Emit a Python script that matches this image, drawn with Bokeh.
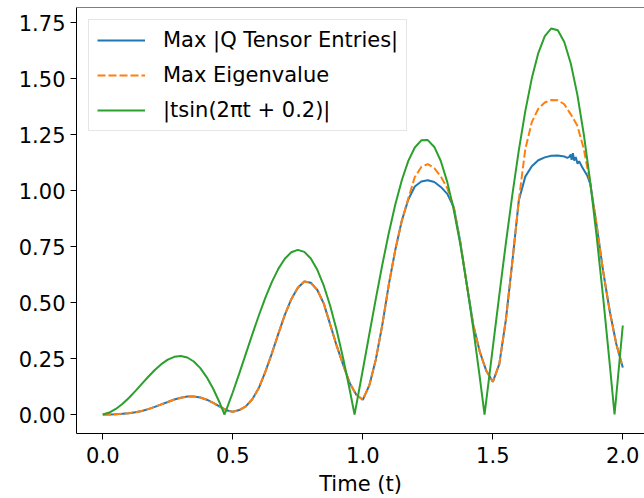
from bokeh.plotting import figure
from bokeh.models import Range1d, FixedTicker, PrintfTickFormatter, Legend, LegendItem, Span
from bokeh.embed import file_html
from bokeh.resources import INLINE

# ---------------- data ----------------
t_eig = [0.000, 0.025, 0.050, 0.075, 0.100, 0.125, 0.150, 0.175, 0.200, 0.225,
         0.250, 0.275, 0.300, 0.325, 0.350, 0.375, 0.400, 0.425, 0.450, 0.475,
         0.500, 0.525, 0.550, 0.575, 0.600, 0.625, 0.650, 0.675, 0.700, 0.725,
         0.750, 0.775, 0.800, 0.825, 0.850, 0.875, 0.900, 0.925, 0.950, 0.975,
         1.000, 1.025, 1.050, 1.075, 1.100, 1.125, 1.150, 1.175, 1.200, 1.225,
         1.250, 1.275, 1.300, 1.325, 1.350, 1.375, 1.400, 1.425, 1.450, 1.475,
         1.500, 1.525, 1.550, 1.575, 1.600, 1.625, 1.650, 1.675, 1.700, 1.725,
         1.750, 1.775, 1.800, 1.825, 1.850, 1.875, 1.900, 1.925, 1.950, 1.975,
         2.000]
eig_max = [0.000, 0.000, 0.001, 0.003, 0.006, 0.010, 0.016, 0.024, 0.034, 0.045,
           0.056, 0.067, 0.075, 0.080, 0.080, 0.076, 0.066, 0.052, 0.035, 0.019,
           0.012, 0.020, 0.036, 0.068, 0.118, 0.190, 0.272, 0.360, 0.445, 0.515,
           0.566, 0.594, 0.588, 0.556, 0.495, 0.400, 0.305, 0.220, 0.140, 0.088,
           0.066, 0.130, 0.245, 0.400, 0.580, 0.735, 0.865, 0.965, 1.060, 1.105,
           1.118, 1.100, 1.063, 1.010, 0.925, 0.770, 0.580, 0.400, 0.280, 0.195,
           0.146, 0.225, 0.420, 0.680, 0.955, 1.185, 1.305, 1.365, 1.393, 1.404,
           1.403, 1.385, 1.340, 1.290, 1.186, 1.030, 0.840, 0.635, 0.460, 0.315,
           0.210]

t_q = [0.000, 0.025, 0.050, 0.075, 0.100, 0.125, 0.150, 0.175, 0.200, 0.225,
       0.250, 0.275, 0.300, 0.325, 0.350, 0.375, 0.400, 0.425, 0.450, 0.475,
       0.500, 0.525, 0.550, 0.575, 0.600, 0.625, 0.650, 0.675, 0.700, 0.725,
       0.750, 0.775, 0.800, 0.825, 0.850, 0.875, 0.900, 0.925, 0.950, 0.975,
       1.000, 1.025, 1.050, 1.075, 1.100, 1.125, 1.150, 1.175, 1.200, 1.225,
       1.250, 1.275, 1.300, 1.325, 1.350, 1.375, 1.400, 1.425, 1.450, 1.475,
       1.500, 1.525, 1.550, 1.575, 1.600, 1.625, 1.650, 1.675, 1.700, 1.725,
       1.750, 1.775, 1.786, 1.793, 1.800, 1.803, 1.808, 1.813, 1.819, 1.826,
       1.832, 1.844, 1.863, 1.875, 1.900, 1.925, 1.950, 1.975, 2.000]
q_max = [0.000, 0.000, 0.001, 0.003, 0.006, 0.010, 0.016, 0.024, 0.034, 0.045,
         0.056, 0.067, 0.075, 0.080, 0.080, 0.076, 0.066, 0.052, 0.035, 0.019,
         0.012, 0.020, 0.036, 0.068, 0.118, 0.190, 0.272, 0.360, 0.445, 0.515,
         0.566, 0.594, 0.588, 0.556, 0.495, 0.400, 0.305, 0.220, 0.140, 0.088,
         0.066, 0.130, 0.245, 0.400, 0.580, 0.735, 0.865, 0.960, 1.018, 1.040,
         1.046, 1.038, 1.016, 0.985, 0.925, 0.770, 0.580, 0.400, 0.280, 0.195,
         0.146, 0.225, 0.420, 0.680, 0.955, 1.062, 1.108, 1.135, 1.148, 1.155,
         1.156, 1.152, 1.146, 1.149, 1.161, 1.137, 1.167, 1.134, 1.149, 1.119,
         1.131, 1.104, 1.067, 1.030, 0.840, 0.635, 0.460, 0.315, 0.210]

t_ref = [0.000, 0.025, 0.050, 0.075, 0.100, 0.125, 0.150, 0.175, 0.200, 0.225,
         0.250, 0.275, 0.300, 0.325, 0.350, 0.375, 0.400, 0.425, 0.450, 0.4682,
         0.475, 0.500, 0.525, 0.550, 0.575, 0.600, 0.625, 0.650, 0.675, 0.700,
         0.725, 0.750, 0.775, 0.800, 0.825, 0.850, 0.875, 0.900, 0.925, 0.950,
         0.9682, 0.975, 1.000, 1.025, 1.050, 1.075, 1.100, 1.125, 1.150, 1.175,
         1.200, 1.225, 1.250, 1.275, 1.300, 1.325, 1.350, 1.375, 1.400, 1.425,
         1.450, 1.4682, 1.475, 1.500, 1.525, 1.550, 1.575, 1.600, 1.625, 1.650,
         1.675, 1.700, 1.725, 1.750, 1.775, 1.800, 1.825, 1.850, 1.875, 1.900,
         1.925, 1.950, 1.9682, 1.975, 2.000]
ref_abs = [0.0000, 0.0087, 0.0246, 0.0466, 0.0737, 0.1042, 0.1364, 0.1686, 0.1987, 0.2248,
           0.2450, 0.2576, 0.2612, 0.2545, 0.2367, 0.2072, 0.1661, 0.1139, 0.0513, 0.0000,
           0.0204, 0.0994, 0.1835, 0.2705, 0.3576, 0.4421, 0.5209, 0.5912, 0.6503, 0.6955,
           0.7243, 0.7351, 0.7261, 0.6966, 0.6460, 0.5749, 0.4835, 0.3738, 0.2479, 0.1083,
           0.0000, 0.0418, 0.1987, 0.3582, 0.5164, 0.6685, 0.8105, 0.9377, 1.0460, 1.1320,
           1.1922, 1.2239, 1.2251, 1.1945, 1.1319, 1.0375, 0.9131, 0.7598, 0.5814, 0.3819,
           0.1653, 0.0000, 0.0633, 0.2981, 0.5330, 0.7623, 0.9795, 1.1789, 1.3544, 1.5008,
           1.6137, 1.6890, 1.7234, 1.7152, 1.6630, 1.5673, 1.4290, 1.2513, 1.0361, 0.7891,
           0.5159, 0.2223, 0.0000, 0.0847, 0.3974]

x_ticks = [0.0, 0.5, 1.0, 1.5, 2.0]
y_ticks = [0.00, 0.25, 0.50, 0.75, 1.00, 1.25, 1.50, 1.75]
labels = ["Max |Q Tensor Entries|", "Max Eigenvalue", "|tsin(2πt + 0.2)|"]
x_label = "Time (t)"

# ---------------- styling ----------------
FONT = "DejaVu Sans"
FS = "21px"
BLUE, ORANGE, GREEN = "#1f77b4", "#ff7f0e", "#2ca02c"
Y_TOP, Y_BOT = 1.817, -0.0848

p = figure(width=644, height=498, output_backend="svg", toolbar_location=None,
           x_range=Range1d(-0.1012, 2.0835), y_range=Range1d(Y_BOT, Y_TOP),
           min_border_left=76, min_border_right=0, min_border_top=7, min_border_bottom=65)
p.background_fill_color = "white"
p.border_fill_color = "white"
p.outline_line_color = None
p.xgrid.visible = False
p.ygrid.visible = False

r_q = p.line(t_q, q_max, line_color=BLUE, line_width=2)
r_e = p.line(t_eig, eig_max, line_color=ORANGE, line_width=2, line_dash="8 3")
r_g = p.line(t_ref, ref_abs, line_color=GREEN, line_width=2)

p.xaxis.ticker = FixedTicker(ticks=x_ticks)
p.yaxis.ticker = FixedTicker(ticks=y_ticks)
p.xaxis.formatter = PrintfTickFormatter(format="%.1f")
p.yaxis.formatter = PrintfTickFormatter(format="%.2f")
for ax in (p.xaxis, p.yaxis):
    ax.axis_line_color = "black"
    ax.axis_line_width = 1
    ax.major_tick_line_color = "black"
    ax.major_tick_line_width = 1
    ax.major_tick_in = 0
    ax.major_tick_out = 6
    ax.minor_tick_line_color = None
    ax.major_label_text_font = FONT
    ax.major_label_text_font_size = FS
    ax.major_label_text_color = "black"
p.xaxis.major_label_standoff = 7
p.yaxis.major_label_standoff = 5
p.xaxis.axis_label = x_label
p.xaxis.axis_label_text_font = FONT
p.xaxis.axis_label_text_font_size = FS
p.xaxis.axis_label_text_font_style = "normal"
p.xaxis.axis_label_text_color = "black"
p.xaxis.axis_label_standoff = 6

# top spine
p.add_layout(Span(location=Y_TOP, dimension="width", line_color="black", line_width=1))

legend = Legend(items=[LegendItem(label=labels[0], renderers=[r_q]),
                       LegendItem(label=labels[1], renderers=[r_e]),
                       LegendItem(label=labels[2], renderers=[r_g])],
                location="top_left", margin=12, padding=8, spacing=11,
                glyph_width=48, glyph_height=20, label_standoff=18,
                label_text_font=FONT, label_text_font_size=FS,
                label_text_color="black",
                border_line_color="#cccccc", border_line_width=1,
                background_fill_color="white", background_fill_alpha=0.8)
p.add_layout(legend)

open("out.html", "w").write(file_html(p, INLINE))
